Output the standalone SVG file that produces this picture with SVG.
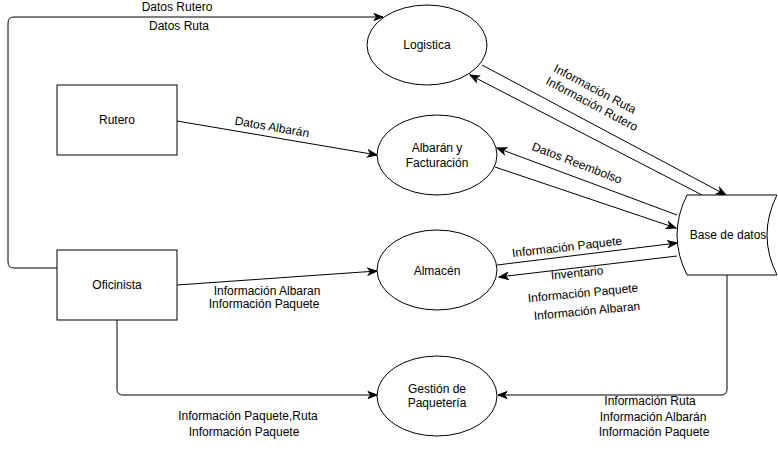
<svg xmlns="http://www.w3.org/2000/svg" width="778" height="456" viewBox="0 0 778 456">
<style>
text{font-family:"Liberation Sans",Arial,Helvetica,sans-serif;font-size:12px;fill:#000;text-anchor:middle;dominant-baseline:central}
.n{fill:#fff;stroke:#000;stroke-width:1}
.c{fill:none;stroke:#000;stroke-width:1;marker-end:url(#arr)}
</style>
<defs>
<marker id="arr" markerUnits="userSpaceOnUse" markerWidth="12" markerHeight="10" viewBox="-10 -5 12 10" refX="0" refY="0" orient="auto">
<path d="M-9,-3.5 L0,0 L-9,3.5 L-6.5,0 Z" fill="#000" stroke="#000" stroke-width="1"/>
</marker>
</defs>
<rect width="778" height="456" fill="#fff"/>
<g id="connectors">
<path class="c" d="M57,268 L14,268 Q8,268 8,262 L8,23 Q8,17 14,17 L383,17"/>
<path class="c" d="M177,121 L377,155"/>
<path class="c" d="M482,65 L726,195"/>
<path class="c" d="M702,195 L470,75"/>
<path class="c" d="M495,167 L676,228"/>
<path class="c" d="M677,215 L497,148"/>
<path class="c" d="M497,265 L677,243"/>
<path class="c" d="M677,256 L499,277"/>
<path class="c" d="M177,285 L377,271"/>
<path class="c" d="M117,320 L117,389 Q117,395 123,395 L377,395"/>
<path class="c" d="M727,275 L727,389 Q727,395 721,395 L498,395"/>
</g>
<g id="labels">
<text x="177" y="6.5">Datos Rutero</text>
<text x="179" y="26">Datos Ruta</text>
<text x="272" y="127" transform="rotate(9.7 272 127)">Datos Albarán</text>
<text x="595" y="89" transform="rotate(28 595 89)">Información Ruta</text>
<text x="592" y="104" transform="rotate(28 592 104)">Información Rutero</text>
<text x="577" y="163" transform="rotate(21 577 163)">Datos Reembolso</text>
<text x="567" y="247" transform="rotate(-6.5 567 247)">Información Paquete</text>
<text x="577" y="273" transform="rotate(-5.5 577 273)">Inventario</text>
<text x="583" y="293" transform="rotate(-5.5 583 293)">Información Paquete</text>
<text x="587" y="311" transform="rotate(-5.5 587 311)">Información Albaran</text>
<text x="267" y="290.5">Información Albaran</text>
<text x="264" y="303.5">Información Paquete</text>
<text x="248" y="416">Información Paquete,Ruta</text>
<text x="244" y="432">Información Paquete</text>
<text x="650" y="401">Información Ruta</text>
<text x="653" y="417">Información Albarán</text>
<text x="654" y="432">Información Paquete</text>
</g>
<g id="logistica">
<ellipse class="n" cx="427" cy="45" rx="60" ry="40"/>
<text x="427" y="45">Logistica</text>
</g>
<g id="albaran">
<ellipse class="n" cx="437" cy="155" rx="60" ry="40"/>
<text x="437" y="148">Albarán y</text>
<text x="437" y="163">Facturación</text>
</g>
<g id="almacen">
<ellipse class="n" cx="437" cy="270" rx="60" ry="40"/>
<text x="437" y="271">Almacén</text>
</g>
<g id="gestion">
<ellipse class="n" cx="437" cy="396" rx="60" ry="40"/>
<text x="437" y="389">Gestión de</text>
<text x="437" y="403">Paquetería</text>
</g>
<g id="rutero">
<rect class="n" x="57" y="85" width="120" height="70"/>
<text x="117" y="120">Rutero</text>
</g>
<g id="oficinista">
<rect class="n" x="57" y="250" width="120" height="70"/>
<text x="117" y="285">Oficinista</text>
</g>
<g id="basedatos">
<path class="n" d="M687,195 L777,195 Q757,235 777,275 L687,275 Q667,235 687,195 Z"/>
<text x="728" y="235">Base de datos</text>
</g>
</svg>
